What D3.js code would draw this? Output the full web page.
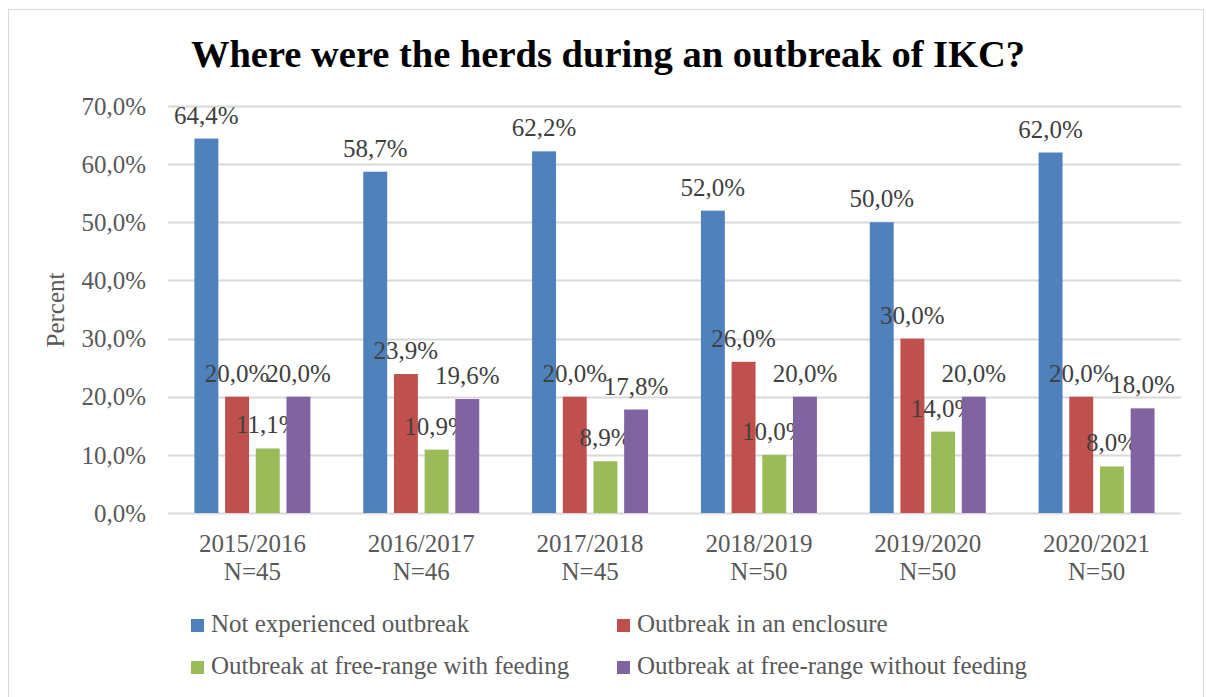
<!DOCTYPE html>
<html>
<head>
<meta charset="utf-8">
<script src="https://cdn.jsdelivr.net/npm/d3@7"></script>
<style>
  body { margin: 0; background: #fff; }
  text { font-family: "Liberation Serif", "DejaVu Serif", serif; }
</style>
</head>
<body>
<svg id="chart" width="1206" height="697"></svg>
<script>
// chart data
const seasons = ["2015/2016", "2016/2017", "2017/2018", "2018/2019", "2019/2020", "2020/2021"];
const sampleSizes = ["N=45", "N=46", "N=45", "N=50", "N=50", "N=50"];
const seriesNames = [
  "Not experienced outbreak",
  "Outbreak in an enclosure",
  "Outbreak at free-range with feeding",
  "Outbreak at free-range without feeding"
];
const notExperienced = [64.4, 58.7, 62.2, 52.0, 50.0, 62.0];
const inEnclosure = [20.0, 23.9, 20.0, 26.0, 30.0, 20.0];
const freeRangeFeeding = [11.1, 10.9, 8.9, 10.0, 14.0, 8.0];
const freeRangeNoFeeding = [20.0, 19.6, 17.8, 20.0, 20.0, 18.0];
const yTicks = [0, 10, 20, 30, 40, 50, 60, 70];

const seriesValues = [notExperienced, inEnclosure, freeRangeFeeding, freeRangeNoFeeding];
const colors = ["#4F81BD", "#C0504D", "#9BBB59", "#8064A2"];

const svg = d3.select("#chart");
const fmt = v => v.toFixed(1).replace(".", ",") + "%";
const fs = 25;

// outer frame
svg.append("rect")
  .attr("x", 8.5).attr("y", 9.5)
  .attr("width", 1195).attr("height", 700)
  .attr("fill", "none")
  .attr("stroke", "#D9D9D9");

// title
svg.append("text")
  .attr("x", 608).attr("y", 67)
  .attr("text-anchor", "middle")
  .attr("font-size", 38.5)
  .attr("font-weight", "bold")
  .attr("fill", "#000")
  .text("Where were the herds during an outbreak of IKC?");

const plotLeft = 168, plotRight = 1181, plotTop = 106, plotBottom = 513;

const x = d3.scaleBand()
  .domain(seasons)
  .range([plotLeft, plotRight])
  .paddingInner(0.313)
  .paddingOuter(0.1565);

const xs = d3.scaleBand()
  .domain(d3.range(seriesNames.length))
  .range([0, x.bandwidth()])
  .paddingInner(0.22);

const y = d3.scaleLinear()
  .domain([0, 70])
  .range([plotBottom, plotTop]);

// gridlines
svg.append("g")
  .selectAll("line")
  .data(yTicks)
  .join("line")
  .attr("x1", plotLeft).attr("x2", plotRight)
  .attr("y1", d => Math.round(y(d)) + 0.5)
  .attr("y2", d => Math.round(y(d)) + 0.5)
  .attr("stroke", "#D9D9D9")
  .attr("stroke-width", 2);

// y tick labels
svg.append("g")
  .selectAll("text")
  .data(yTicks)
  .join("text")
  .attr("x", 146)
  .attr("y", d => y(d))
  .attr("dy", "0.35em")
  .attr("text-anchor", "end")
  .attr("font-size", fs)
  .attr("fill", "#595959")
  .text(d => fmt(d));

// y axis title
svg.append("text")
  .attr("transform", "translate(64,310) rotate(-90)")
  .attr("text-anchor", "middle")
  .attr("font-size", fs)
  .attr("fill", "#595959")
  .text("Percent");

// bars
const groups = svg.append("g")
  .selectAll("g")
  .data(seasons)
  .join("g")
  .attr("transform", d => `translate(${x(d)},0)`);

const cells = groups.selectAll("g")
  .data((d, i) => seriesValues.map((vals, s) => ({ s, v: vals[i] })))
  .join("g");

cells.append("rect")
  .attr("x", d => xs(d.s))
  .attr("y", d => y(d.v))
  .attr("width", xs.bandwidth())
  .attr("height", d => y(0) - y(d.v))
  .attr("fill", d => colors[d.s]);

cells.append("text")
  .attr("x", d => xs(d.s) + xs.bandwidth() / 2)
  .attr("y", d => y(d.v) - 15)
  .attr("text-anchor", "middle")
  .attr("font-size", fs)
  .attr("fill", "#404040")
  .text(d => fmt(d.v));

// x labels
const xl = svg.append("g")
  .selectAll("text")
  .data(seasons)
  .join("text")
  .attr("text-anchor", "middle")
  .attr("font-size", fs)
  .attr("fill", "#595959");
xl.append("tspan")
  .attr("x", d => x(d) + x.bandwidth() / 2)
  .attr("y", 552)
  .text(d => d);
xl.append("tspan")
  .attr("x", d => x(d) + x.bandwidth() / 2)
  .attr("y", 580)
  .text((d, i) => sampleSizes[i]);

// legend
const legend = svg.append("g")
  .selectAll("g")
  .data(seriesNames)
  .join("g")
  .attr("transform", (d, i) => `translate(${i % 2 ? 617 : 191},${i < 2 ? 619 : 661})`);
legend.append("rect")
  .attr("width", 13).attr("height", 13)
  .attr("fill", (d, i) => colors[i]);
legend.append("text")
  .attr("x", 20).attr("y", 13)
  .attr("font-size", fs)
  .attr("fill", "#595959")
  .text(d => d);
</script>
</body>
</html>
